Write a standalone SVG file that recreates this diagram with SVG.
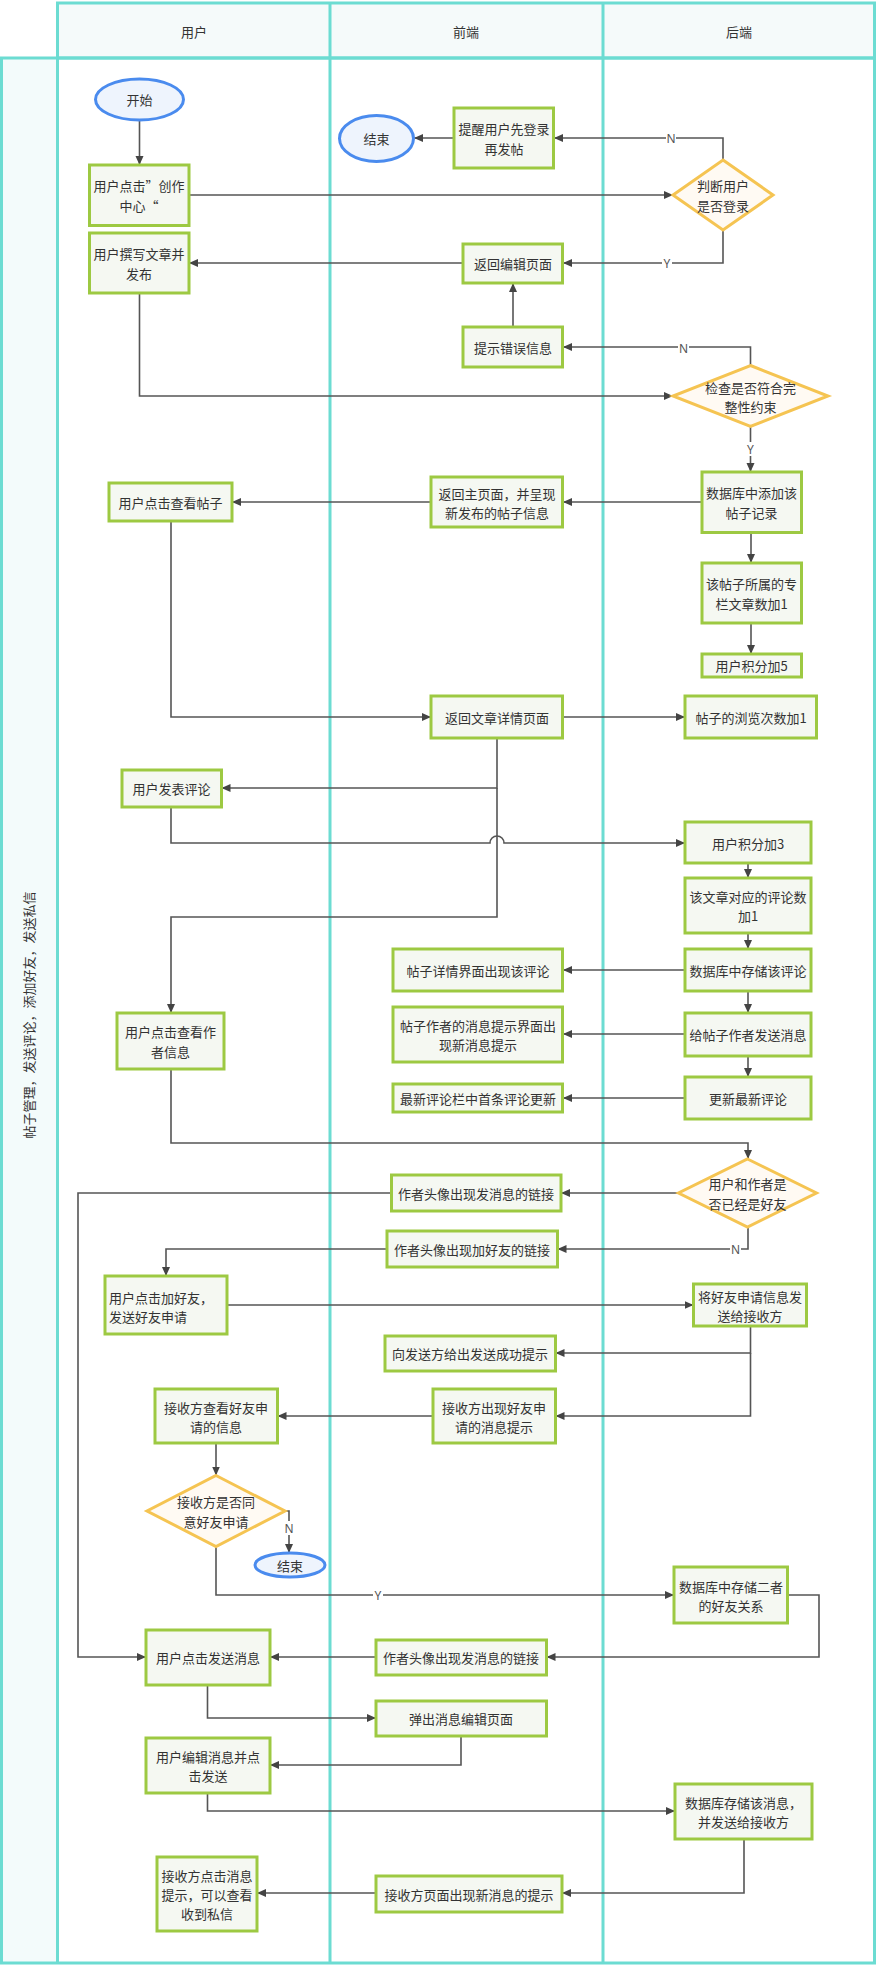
<svg xmlns="http://www.w3.org/2000/svg" width="877" height="1966" viewBox="0 0 877 1966">
<defs>
<style>
.lane{fill:none;stroke:#6CDCD2;stroke-width:3}
.box{fill:#F5F8F2;stroke:#9DC942;stroke-width:3}
.dia{fill:#FFFAF3;stroke:#F5C452;stroke-width:3}
.ell{fill:#EEF4FD;stroke:#4A8BEE;stroke-width:3}
.t{font-family:"Noto Sans CJK SC","Noto Sans",sans-serif;font-size:13px;fill:#333;text-anchor:middle;dominant-baseline:central}
.tl{text-anchor:start}
.hd{font-size:13px}
.lbl{font-family:"Noto Sans",sans-serif;font-size:12px;fill:#555;text-anchor:middle;dominant-baseline:central}
.c{fill:none;stroke:#555;stroke-width:1.6}
.a{marker-end:url(#ah)}
</style>
<marker id="ah" markerUnits="userSpaceOnUse" markerWidth="10" markerHeight="10" viewBox="0 0 10 10" refX="9" refY="5" orient="auto">
<path d="M0,1 L9,5 L0,9 z" fill="#444"/>
</marker>
</defs>

<g id="pool">
<rect x="57.5" y="3" width="817" height="55" fill="#F5FAFA" stroke="none"/>
<rect x="1.5" y="58" width="56" height="1905" fill="#F3FBFB" stroke="none"/>
<rect x="57.5" y="3" width="817" height="55" class="lane"/>
<rect x="1.5" y="58" width="873" height="1905" class="lane"/>
<line x1="57.5" y1="58" x2="57.5" y2="1963" class="lane"/>
<line x1="330" y1="3" x2="330" y2="1963" class="lane"/>
<line x1="603" y1="3" x2="603" y2="1963" class="lane"/>
<text class="t hd" x="194" y="31">用户</text>
<text class="t hd" x="466" y="31">前端</text>
<text class="t hd" x="739" y="31">后端</text>
<text class="t" x="28" y="1015" font-size="12" transform="rotate(-90 28 1015)">帖子管理，发送评论，添加好友，发送私信</text>
</g>

<g id="connectors">
<path class="c a" d="M139.5,120 V165"/>
<path class="c a" d="M189,195 H673"/>
<path class="c a" d="M723,160 V138 H554"/>
<path class="c a" d="M454,138 H414"/>
<path class="c a" d="M723,230 V263 H563"/>
<path class="c a" d="M463,263 H189"/>
<path class="c a" d="M513,327 V283"/>
<path class="c a" d="M139.5,293 V396 H673"/>
<path class="c a" d="M750.5,365.5 V347 H563"/>
<path class="c a" d="M750.5,426.5 V472"/>
<path class="c a" d="M702,502 H563"/>
<path class="c a" d="M431,502 H232"/>
<path class="c a" d="M751,532.5 V563"/>
<path class="c a" d="M751,623 V654"/>
<path class="c a" d="M171,521 V717 H431"/>
<path class="c a" d="M563,717 H685"/>
<path class="c a" d="M497,738 V788 H221.5"/>
<path class="c a" d="M497,788 V917 H171 V1013"/>
<path class="c a" d="M171,807 V843 H490 A7,7 0 0 1 504,843 H685"/>
<path class="c a" d="M748,863 V878"/>
<path class="c a" d="M748,933 V949"/>
<path class="c a" d="M685,970 H563"/>
<path class="c a" d="M748,991 V1013"/>
<path class="c a" d="M685,1034 H563"/>
<path class="c a" d="M748,1056 V1077"/>
<path class="c a" d="M685,1098 H563"/>
<path class="c a" d="M171,1069 V1143 H748 V1159"/>
<path class="c a" d="M678.5,1193 H561"/>
<path class="c a" d="M391.5,1193 H78 V1657 H146"/>
<path class="c a" d="M748,1227 V1249 H557.5"/>
<path class="c a" d="M387,1249 H166 V1276"/>
<path class="c a" d="M227,1305 H693.5"/>
<path class="c a" d="M750.5,1326 V1353 H555.5"/>
<path class="c a" d="M750.5,1353 V1416 H555.5"/>
<path class="c a" d="M433,1416 H277.5"/>
<path class="c a" d="M216,1443 V1475.5"/>
<path class="c a" d="M285,1511 H289 V1553"/>
<path class="c a" d="M216,1546.5 V1595 H674"/>
<path class="c a" d="M787.5,1595 H819 V1657 H546.5"/>
<path class="c a" d="M376,1657 H270"/>
<path class="c a" d="M207.5,1685 V1718 H376"/>
<path class="c a" d="M461,1736 V1765 H270"/>
<path class="c a" d="M207.5,1793 V1811 H675"/>
<path class="c a" d="M744,1839 V1893 H562"/>
<path class="c a" d="M376,1893 H257"/>
<g id="labels">
<rect x="666" y="131" width="10" height="14" fill="#fff"/><text class="lbl" x="671" y="138">N</text>
<rect x="662" y="256" width="10" height="14" fill="#fff"/><text class="lbl" x="667" y="263">Y</text>
<rect x="678" y="341" width="11" height="14" fill="#fff"/><text class="lbl" x="683.5" y="348">N</text>
<rect x="745" y="442" width="11" height="14" fill="#fff"/><text class="lbl" x="750.5" y="449">Y</text>
<rect x="730" y="1242" width="11" height="14" fill="#fff"/><text class="lbl" x="735.5" y="1249">N</text>
<rect x="284" y="1521" width="10" height="14" fill="#fff"/><text class="lbl" x="289" y="1528">N</text>
<rect x="373" y="1588" width="10" height="14" fill="#fff"/><text class="lbl" x="378" y="1595">Y</text>
</g>
</g>

<g id="start"><ellipse class="ell" cx="139.5" cy="99.5" rx="44" ry="20.5"/><text class="t" x="139.5" y="99.5" font-size="15">开始</text></g>
<g id="n_click_create"><rect class="box" x="89.5" y="165" width="99.5" height="60.5"/><text class="t" x="139" y="185">用户点击”创作</text><text class="t" x="139" y="205">中心“</text></g>
<g id="n_write"><rect class="box" x="89.5" y="233" width="99.5" height="60"/><text class="t" x="139" y="253.5">用户撰写文章并</text><text class="t" x="139" y="273">发布</text></g>
<g id="end1"><ellipse class="ell" cx="376.5" cy="138.5" rx="37" ry="23"/><text class="t" x="376.5" y="138.5">结束</text></g>
<g id="n_remind"><rect class="box" x="454" y="108" width="99.5" height="60"/><text class="t" x="504" y="128.5">提醒用户先登录</text><text class="t" x="504" y="148">再发帖</text></g>
<g id="d_login"><path class="dia" d="M723,160 L773,195 L723,230 L673,195 Z"/><text class="t" x="723" y="185.5">判断用户</text><text class="t" x="723" y="205">是否登录</text></g>
<g id="n_back_edit"><rect class="box" x="463" y="244" width="99.5" height="39"/><text class="t" x="513" y="263.5">返回编辑页面</text></g>
<g id="n_err"><rect class="box" x="463" y="327" width="99.5" height="40"/><text class="t" x="513" y="347">提示错误信息</text></g>
<g id="d_check"><path class="dia" d="M750.5,365.5 L828,396 L750.5,426.5 L673,396 Z"/><text class="t" x="750.5" y="387">检查是否符合完</text><text class="t" x="750.5" y="406">整性约束</text></g>
<g id="n_db_add"><rect class="box" x="702" y="472" width="99.5" height="60.5"/><text class="t" x="751.5" y="492.5">数据库中添加该</text><text class="t" x="751.5" y="512">帖子记录</text></g>
<g id="n_return_home"><rect class="box" x="431" y="477" width="131.5" height="50"/><text class="t" x="497" y="493">返回主页面，并呈现</text><text class="t" x="497" y="512">新发布的帖子信息</text></g>
<g id="n_view_post"><rect class="box" x="109" y="483" width="123" height="38"/><text class="t" x="170.5" y="502">用户点击查看帖子</text></g>
<g id="n_col_count"><rect class="box" x="702" y="563" width="99.5" height="60"/><text class="t" x="751.5" y="583">该帖子所属的专</text><text class="t" x="751.5" y="603">栏文章数加1</text></g>
<g id="n_score5"><rect class="box" x="702" y="654" width="99.5" height="23"/><text class="t" x="751.5" y="665.5">用户积分加5</text></g>
<g id="n_detail"><rect class="box" x="431" y="696" width="131.5" height="42"/><text class="t" x="497" y="717">返回文章详情页面</text></g>
<g id="n_views"><rect class="box" x="685" y="696" width="131.5" height="42"/><text class="t" x="751" y="717">帖子的浏览次数加1</text></g>
<g id="n_comment"><rect class="box" x="122" y="770" width="99.5" height="37"/><text class="t" x="171.5" y="788.5">用户发表评论</text></g>
<g id="n_score3"><rect class="box" x="685" y="822" width="126" height="41"/><text class="t" x="748" y="843">用户积分加3</text></g>
<g id="n_comment_count"><rect class="box" x="685" y="878" width="126" height="55"/><text class="t" x="748" y="896">该文章对应的评论数</text><text class="t" x="748" y="915">加1</text></g>
<g id="n_db_comment"><rect class="box" x="685" y="949" width="126" height="42"/><text class="t" x="748" y="970">数据库中存储该评论</text></g>
<g id="n_show_comment"><rect class="box" x="393" y="949" width="169.5" height="42"/><text class="t" x="478" y="970">帖子详情界面出现该评论</text></g>
<g id="n_send_author"><rect class="box" x="685" y="1013" width="126" height="43"/><text class="t" x="748" y="1034.5">给帖子作者发送消息</text></g>
<g id="n_author_tip"><rect class="box" x="393" y="1007" width="169.5" height="55"/><text class="t" x="478" y="1025">帖子作者的消息提示界面出</text><text class="t" x="478" y="1044">现新消息提示</text></g>
<g id="n_update_latest"><rect class="box" x="685" y="1077" width="126" height="42"/><text class="t" x="748" y="1098">更新最新评论</text></g>
<g id="n_latest_first"><rect class="box" x="393" y="1084" width="169.5" height="28"/><text class="t" x="478" y="1098">最新评论栏中首条评论更新</text></g>
<g id="n_view_author"><rect class="box" x="117" y="1013" width="107" height="56"/><text class="t" x="170.5" y="1031.5">用户点击查看作</text><text class="t" x="170.5" y="1051">者信息</text></g>
<g id="d_friend"><path class="dia" d="M747.5,1159 L816.5,1193 L747.5,1227 L678.5,1193 Z"/><text class="t" x="747.5" y="1183.5">用户和作者是</text><text class="t" x="747.5" y="1203">否已经是好友</text></g>
<g id="n_msg_link1"><rect class="box" x="391.5" y="1175" width="169.5" height="36"/><text class="t" x="476" y="1193">作者头像出现发消息的链接</text></g>
<g id="n_add_link"><rect class="box" x="387" y="1231" width="170.5" height="36"/><text class="t" x="472" y="1249">作者头像出现加好友的链接</text></g>
<g id="n_add_friend"><rect class="box" x="105" y="1276" width="122" height="58"/><text class="t tl" x="109" y="1297">用户点击加好友，</text><text class="t tl" x="109" y="1316">发送好友申请</text></g>
<g id="n_send_req"><rect class="box" x="693.5" y="1284" width="113" height="42"/><text class="t" x="750" y="1296">将好友申请信息发</text><text class="t" x="750" y="1315">送给接收方</text></g>
<g id="n_success"><rect class="box" x="385" y="1336" width="170.5" height="35"/><text class="t" x="470" y="1353.5">向发送方给出发送成功提示</text></g>
<g id="n_recv_tip"><rect class="box" x="433" y="1389" width="122.5" height="54"/><text class="t" x="494" y="1407">接收方出现好友申</text><text class="t" x="494" y="1426">请的消息提示</text></g>
<g id="n_recv_view"><rect class="box" x="155" y="1389" width="122.5" height="54"/><text class="t" x="216" y="1407">接收方查看好友申</text><text class="t" x="216" y="1426">请的信息</text></g>
<g id="d_agree"><path class="dia" d="M216,1475.5 L285,1511 L216,1546.5 L147,1511 Z"/><text class="t" x="216" y="1501.5">接收方是否同</text><text class="t" x="216" y="1521">意好友申请</text></g>
<g id="end2"><ellipse class="ell" cx="290" cy="1565" rx="35" ry="12"/><text class="t" x="290" y="1565">结束</text></g>
<g id="n_db_friend"><rect class="box" x="674" y="1567" width="113.5" height="56"/><text class="t" x="731" y="1586">数据库中存储二者</text><text class="t" x="731" y="1605">的好友关系</text></g>
<g id="n_msg_link2"><rect class="box" x="376" y="1640" width="170.5" height="35"/><text class="t" x="461" y="1657.5">作者头像出现发消息的链接</text></g>
<g id="n_click_send"><rect class="box" x="146" y="1630" width="124" height="55"/><text class="t" x="208" y="1657.5">用户点击发送消息</text></g>
<g id="n_popup"><rect class="box" x="376" y="1701" width="170.5" height="35"/><text class="t" x="461" y="1718.5">弹出消息编辑页面</text></g>
<g id="n_edit_send"><rect class="box" x="146" y="1738" width="124" height="55"/><text class="t" x="208" y="1756">用户编辑消息并点</text><text class="t" x="208" y="1775">击发送</text></g>
<g id="n_db_msg"><rect class="box" x="675" y="1784" width="137" height="55"/><text class="t" x="743.5" y="1802">数据库存储该消息，</text><text class="t" x="743.5" y="1821">并发送给接收方</text></g>
<g id="n_recv_page"><rect class="box" x="376" y="1876" width="186" height="36"/><text class="t" x="469" y="1894">接收方页面出现新消息的提示</text></g>
<g id="n_recv_click"><rect class="box" x="157" y="1857" width="100" height="74"/><text class="t" x="207" y="1875">接收方点击消息</text><text class="t" x="207" y="1894">提示，可以查看</text><text class="t" x="207" y="1913">收到私信</text></g>
</svg>
